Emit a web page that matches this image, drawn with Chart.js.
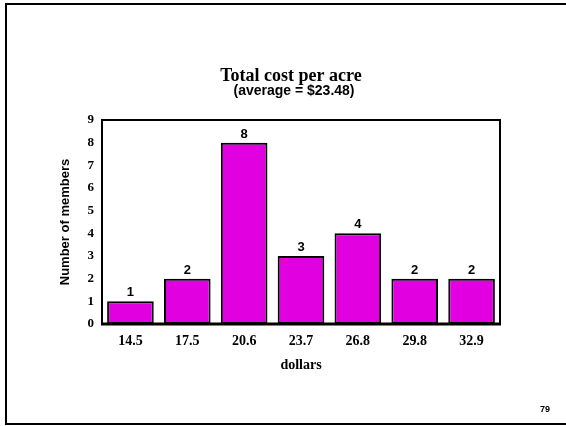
<!DOCTYPE html>
<html>
<head>
<meta charset="utf-8">
<script src="https://cdn.jsdelivr.net/npm/chart.js@4"></script>
<style>
  html, body { margin: 0; padding: 0; background: #fff; }
  #wrap { width: 566px; height: 426px; position: relative; }
</style>
</head>
<body>
<div id="wrap"><canvas id="costChart" width="566" height="426"></canvas></div>
<script>
// Total cost per acre histogram
const categories = ['14.5', '17.5', '20.6', '23.7', '26.8', '29.8', '32.9'];
const members = [1, 2, 8, 3, 4, 2, 2];
const yTicks = [0, 1, 2, 3, 4, 5, 6, 7, 8, 9];

const titleText = 'Total cost per acre';
const subtitleText = '(average = $23.48)';
const pageNumber = '79';

const pageDecor = {
    id: 'pageDecor',
    beforeDraw(chart) {
        const ctx = chart.ctx;
        ctx.save();
        ctx.fillStyle = '#fff';
        ctx.fillRect(0, 0, chart.width, chart.height);
        // slide frame
        ctx.strokeStyle = '#000';
        ctx.lineWidth = 2;
        ctx.beginPath();
        ctx.moveTo(566, 4);
        ctx.lineTo(6, 4);
        ctx.lineTo(6, 424);
        ctx.lineTo(566, 424);
        ctx.stroke();
        // titles
        ctx.fillStyle = '#000';
        ctx.textAlign = 'center';
        ctx.textBaseline = 'middle';
        ctx.font = 'bold 18px "Liberation Serif", "Times New Roman", serif';
        ctx.fillText(titleText, 291, 76);
        ctx.font = 'bold 14px "Liberation Sans", Arial, sans-serif';
        ctx.fillText(subtitleText, 294, 91);
        ctx.font = 'bold 9px "Liberation Sans", Arial, sans-serif';
        ctx.fillText(pageNumber, 545, 410);
        ctx.restore();
    },
    afterDatasetsDraw(chart) {
        const ctx = chart.ctx;
        const a = chart.chartArea;
        ctx.save();
        ctx.strokeStyle = '#000';
        ctx.lineWidth = 2;
        ctx.strokeRect(a.left, a.top, a.right - a.left, a.bottom - a.top);
        ctx.lineWidth = 3;
        ctx.beginPath();
        ctx.moveTo(a.left - 1, a.bottom);
        ctx.lineTo(a.right + 1, a.bottom);
        ctx.stroke();
        // value labels
        ctx.fillStyle = '#000';
        ctx.textAlign = 'center';
        ctx.textBaseline = 'bottom';
        ctx.font = 'bold 13px "Liberation Sans", Arial, sans-serif';
        chart.getDatasetMeta(0).data.forEach((bar, i) => {
            ctx.fillText(String(members[i]), bar.x, bar.y - 2);
        });
        ctx.restore();
    }
};

const ctx = document.getElementById('costChart').getContext('2d');
new Chart(ctx, {
    type: 'bar',
    data: {
        labels: categories,
        datasets: [{
            data: members,
            backgroundColor: '#e000e0',
            borderColor: '#000',
            borderWidth: 2,
            borderSkipped: false,
            categoryPercentage: 1,
            barPercentage: 0.82
        }]
    },
    options: {
        responsive: false,
        animation: false,
        layout: { padding: { left: 52, top: 120, right: 66, bottom: 42 } },
        plugins: {
            legend: { display: false },
            tooltip: { enabled: false },
            title: { display: false }
        },
        scales: {
            x: {
                grid: { display: false, drawTicks: false },
                border: { display: false },
                ticks: {
                    color: '#000',
                    padding: 9,
                    maxRotation: 0,
                    font: { family: '"Liberation Serif", "Times New Roman", serif', size: 14, weight: 'bold' }
                },
                title: {
                    display: true,
                    text: 'dollars',
                    color: '#000',
                    padding: { top: 0, bottom: 10 },
                    font: { family: '"Liberation Serif", "Times New Roman", serif', size: 14, weight: 'bold' }
                },
                afterFit(scale) { scale.height = 60; }
            },
            y: {
                min: 0,
                max: 9,
                grid: { display: false, drawTicks: false },
                border: { display: false },
                afterBuildTicks(scale) { scale.ticks = yTicks.map(v => ({ value: v })); },
                ticks: {
                    color: '#000',
                    padding: 8,
                    font: { family: '"Liberation Serif", "Times New Roman", serif', size: 13, weight: 'bold' }
                },
                title: {
                    display: true,
                    text: 'Number of members',
                    color: '#000',
                    padding: { top: 6, bottom: 0 },
                    font: { family: '"Liberation Sans", Arial, sans-serif', size: 13, weight: 'bold' }
                },
                afterFit(scale) { scale.width = 50; }
            }
        }
    },
    plugins: [pageDecor]
});
</script>
</body>
</html>
